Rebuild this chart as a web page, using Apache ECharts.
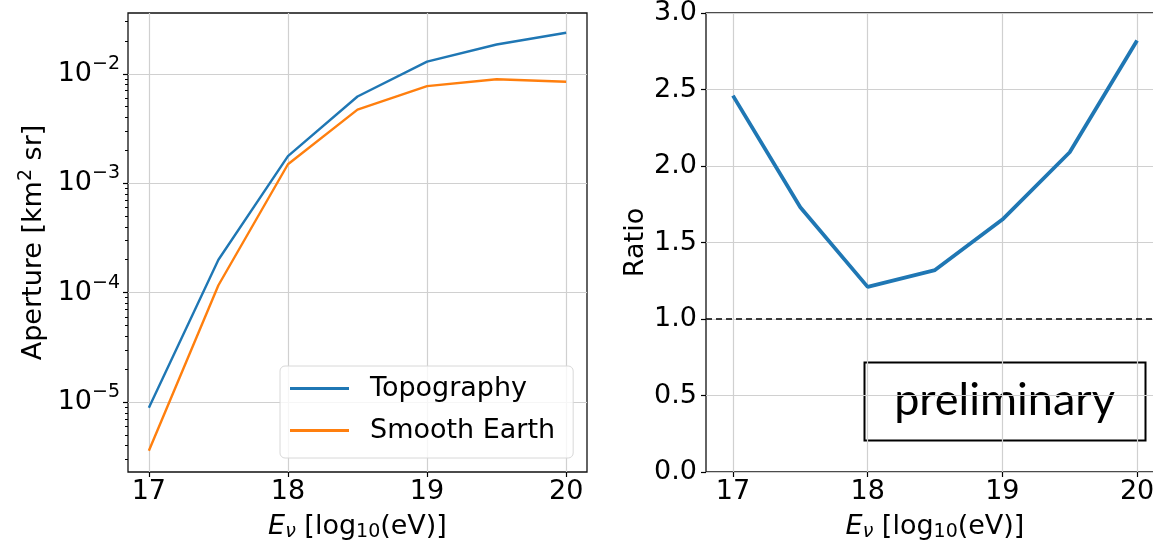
<!DOCTYPE html>
<html><head><meta charset="utf-8">
<script src="https://cdn.jsdelivr.net/npm/echarts@6/dist/echarts.min.js"></script>
<style>html,body{margin:0;padding:0;background:#fff}#c{width:1153px;height:548px}</style>
</head><body><div id="c"></div>
<script>
// ---- data ----
const energies = [17, 17.5, 18, 18.5, 19, 19.5, 20];
const apertureTopography = [8.9e-6, 2.0e-4, 1.77e-3, 6.2e-3, 1.29e-2, 1.85e-2, 2.37e-2];
const apertureSmooth = [3.6e-6, 1.17e-4, 1.49e-3, 4.7e-3, 7.7e-3, 8.9e-3, 8.45e-3];
const ratioValues = [2.46, 1.73, 1.21, 1.32, 1.65, 2.09, 2.82];
const seriesNames = ['Topography', 'Smooth Earth'];
const xTicks = [17, 18, 19, 20];
const apertureMajorTicks = [1e-5, 1e-4, 1e-3, 1e-2];
const ratioTicks = [0, 0.5, 1, 1.5, 2, 2.5, 3];
const apertureMin = Math.pow(10, -5.638), apertureMax = Math.pow(10, -1.445);
const apertureMinorTicks = [];
for (let e = -6; e <= -2; e++) for (let m = 2; m <= 9; m++) {
  const v = +(m + 'e' + e);
  if (v > apertureMin && v < apertureMax) apertureMinorTicks.push(v);
}

const F = 'DejaVu Sans';
const FS = 27, FSS = 19;
const BLUE = '#1f77b4', ORANGE = '#ff7f0e', GRID = '#d0d0d0', SPINE = '#111';
const xName = '{i|E}{si|ν} [log{s|10}(eV)]';
const xNameStyle = {
  fontFamily: F, fontSize: FS, color: '#000',
  rich: {
    i: {fontFamily: F, fontSize: FS, fontStyle: 'italic', color: '#000'},
    si: {fontFamily: F, fontSize: FSS, fontStyle: 'italic', color: '#000', padding: [12, 0, 0, 0]},
    s: {fontFamily: F, fontSize: FSS, color: '#000', padding: [12, 0, 0, 0]}
  }
};
function xAxisCfg(grid, min, max) {
  return {
    gridIndex: grid, type: 'value', min: min, max: max, position: 'bottom',
    name: xName, nameLocation: 'middle', nameGap: 39, nameTextStyle: xNameStyle,
    axisLine: {show: false},
    axisTick: {show: true, length: 5, customValues: xTicks, lineStyle: {color: '#000', width: 1.2}},
    axisLabel: {customValues: xTicks, margin: 6, fontFamily: F, fontSize: FS, color: '#000'},
    splitLine: {show: true, lineStyle: {color: GRID, width: 1.2}}
  };
}

const chart = echarts.init(document.getElementById('c'), null, {renderer: 'canvas'});
chart.setOption({
  animation: false,
  backgroundColor: '#fff',
  grid: [
    {left: 128, top: 13, width: 459, height: 459, show: true, borderColor: SPINE, borderWidth: 1.3,
      backgroundColor: 'transparent', containLabel: false, outerBoundsMode: 'none'},
    {left: 706, top: 13, width: 458, height: 459, show: true, borderColor: SPINE, borderWidth: 1.3,
      backgroundColor: 'transparent', containLabel: false, outerBoundsMode: 'none'}
  ],
  xAxis: [
    xAxisCfg(0, 16.85, 20.15),
    xAxisCfg(1, 16.8, 20.2)
  ],
  yAxis: [
    {
      gridIndex: 0, type: 'log', logBase: 10, min: apertureMin, max: apertureMax, position: 'left',
      name: '{a|Aperture [km}{s|2}{a| sr]}', nameLocation: 'middle', nameGap: 78,
      nameTextStyle: {fontFamily: F, fontSize: FS, color: '#000',
        rich: {a: {fontFamily: F, fontSize: FS, color: '#000'},
               s: {fontFamily: F, fontSize: FSS, color: '#000', padding: [0, 0, 14, 0]}}},
      axisLine: {show: false},
      axisTick: {show: true, length: 5, customValues: apertureMajorTicks, lineStyle: {color: '#000', width: 1.2}},
      axisLabel: {
        customValues: apertureMajorTicks, margin: 8,
        formatter: function (v) {
          const e = Math.round(Math.log10(v));
          return '{b|10}{s|' + (e < 0 ? '\u2212' : '') + Math.abs(e) + '}';
        },
        rich: {
          b: {fontFamily: F, fontSize: FS, color: '#000'},
          s: {fontFamily: F, fontSize: FSS, color: '#000', padding: [0, 0, 20, 0]}
        }
      },
      splitLine: {show: true, lineStyle: {color: GRID, width: 1.2}}
    },
    {
      gridIndex: 0, type: 'log', logBase: 10, min: apertureMin, max: apertureMax, position: 'left',
      axisLine: {show: false},
      axisTick: {show: true, length: 3, customValues: apertureMinorTicks, lineStyle: {color: '#000', width: 1}},
      axisLabel: {show: false},
      splitLine: {show: false}
    },
    {
      gridIndex: 1, type: 'value', min: 0, max: 3, interval: 0.5, position: 'left',
      name: 'Ratio', nameLocation: 'middle', nameGap: 57,
      nameTextStyle: {fontFamily: F, fontSize: FS, color: '#000'},
      axisLine: {show: false},
      axisTick: {show: true, length: 5, customValues: ratioTicks, lineStyle: {color: '#000', width: 1.2}},
      axisLabel: {customValues: ratioTicks, margin: 9, fontFamily: F, fontSize: FS, color: '#000',
        formatter: function (v) { return v.toFixed(1); }},
      splitLine: {show: true, lineStyle: {color: GRID, width: 1.2}}
    }
  ],
  legend: {
    left: 280, top: 366, orient: 'vertical',
    data: seriesNames,
    icon: 'rect', itemWidth: 59, itemHeight: 3, itemGap: 15,
    padding: [9, 18, 14, 10],
    borderColor: '#d8d8d8', borderWidth: 1, borderRadius: 5,
    backgroundColor: 'rgba(255,255,255,0.8)',
    textStyle: {fontFamily: F, fontSize: FS, color: '#000', padding: [0, 0, 0, 16]}
  },
  graphic: [{
    type: 'group', left: 862, top: 360,
    children: [
      {type: 'rect', shape: {x: 0, y: 0, width: 281, height: 78}, style: {fill: 'none', stroke: '#000', lineWidth: 2}},
      {type: 'text', x: 140, y: 38, style: {text: 'preliminary', font: '45px Lato', fill: '#000', align: 'center', verticalAlign: 'middle'}}
    ]
  }],
  series: [
    {name: seriesNames[0], type: 'line', xAxisIndex: 0, yAxisIndex: 0, symbol: 'none',
      data: energies.map((x, i) => [x, apertureTopography[i]]),
      lineStyle: {color: BLUE, width: 2.4}, itemStyle: {color: BLUE}},
    {name: seriesNames[1], type: 'line', xAxisIndex: 0, yAxisIndex: 0, symbol: 'none',
      data: energies.map((x, i) => [x, apertureSmooth[i]]),
      lineStyle: {color: ORANGE, width: 2.4}, itemStyle: {color: ORANGE}},
    {name: 'Ratio', type: 'line', xAxisIndex: 1, yAxisIndex: 2, symbol: 'none',
      data: energies.map((x, i) => [x, ratioValues[i]]),
      lineStyle: {color: BLUE, width: 3.8}, itemStyle: {color: BLUE},
      markLine: {silent: true, symbol: 'none', label: {show: false},
        lineStyle: {color: '#000', type: [6, 4], width: 1.5},
        data: [{yAxis: 1}]}}
  ]
});
</script>
</body></html>
